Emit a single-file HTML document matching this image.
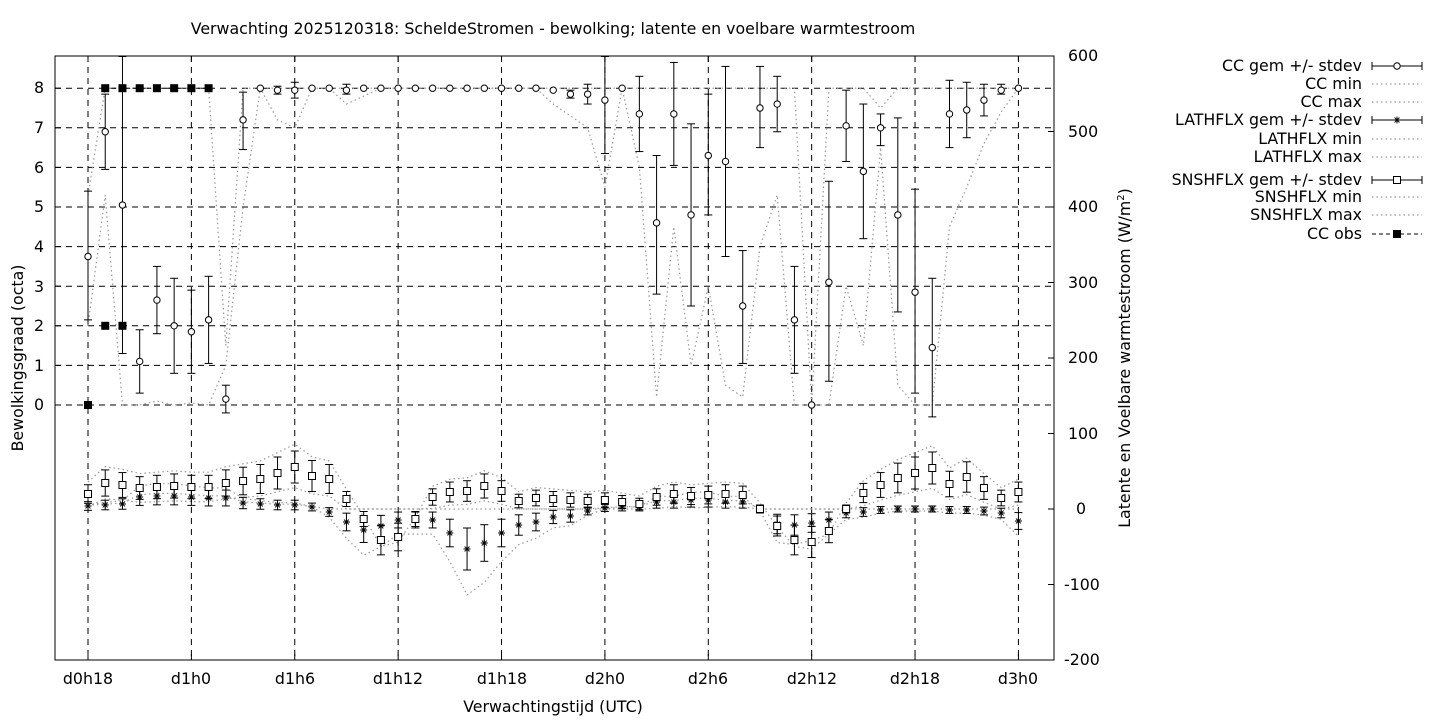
<!DOCTYPE html>
<html><head><meta charset="utf-8"><style>
body{margin:0;background:#fff;}
svg text{font-family:"DejaVu Sans","Liberation Sans",sans-serif;font-size:15.8px;fill:#000;}
</style></head><body>
<svg id="s" width="1440" height="720" xmlns="http://www.w3.org/2000/svg">
<rect width="1440" height="720" fill="#fff"/>
<text x="553" y="34" text-anchor="middle">Verwachting 2025120318: ScheldeStromen - bewolking; latente en voelbare warmtestroom</text>
<g id="grid" stroke="#000" stroke-width="1" stroke-dasharray="6,5"></g>
<g id="dots" fill="none" stroke="#999" stroke-width="1.2" stroke-dasharray="1.5,3"></g>
<g id="series" stroke="#000" stroke-width="1"></g>
<rect x="55" y="56" width="999" height="604" fill="none" stroke="#000"/>
<g text-anchor="end">
<text x="44" y="410">0</text><text x="44" y="371">1</text><text x="44" y="331">2</text><text x="44" y="292">3</text><text x="44" y="252">4</text><text x="44" y="212">5</text><text x="44" y="173">6</text><text x="44" y="133">7</text><text x="44" y="93">8</text>
</g>
<g text-anchor="start">
<text x="1068" y="61">600</text><text x="1068" y="137">500</text><text x="1068" y="212">400</text><text x="1068" y="288">300</text><text x="1068" y="363">200</text><text x="1068" y="439">100</text><text x="1076" y="514">0</text><text x="1064" y="590">-100</text><text x="1064" y="665">-200</text>
</g>
<g text-anchor="middle">
<text x="88" y="684">d0h18</text><text x="191" y="684">d1h0</text><text x="295" y="684">d1h6</text><text x="398" y="684">d1h12</text><text x="502" y="684">d1h18</text><text x="605" y="684">d2h0</text><text x="708" y="684">d2h6</text><text x="812" y="684">d2h12</text><text x="915" y="684">d2h18</text><text x="1018" y="684">d3h0</text>
<text x="553" y="712">Verwachtingstijd (UTC)</text>
</g>
<text transform="translate(23,358) rotate(-90)" text-anchor="middle">Bewolkingsgraad (octa)</text>
<text transform="translate(1130,358) rotate(-90)" text-anchor="middle">Latente en Voelbare warmtestroom (W/m<tspan font-size="10" dy="-6">2</tspan><tspan dy="6">)</tspan></text>
<g text-anchor="end" id="legtext">
<text x="1362" y="71">CC gem +/- stdev</text>
<text x="1362" y="89">CC min</text>
<text x="1362" y="107">CC max</text>
<text x="1362" y="125">LATHFLX gem +/- stdev</text>
<text x="1362" y="144">LATHFLX min</text>
<text x="1362" y="162">LATHFLX max</text>
<text x="1362" y="185">SNSHFLX gem +/- stdev</text>
<text x="1362" y="202">SNSHFLX min</text>
<text x="1362" y="220">SNSHFLX max</text>
<text x="1362" y="239">CC obs</text>
</g>
<g id="leg" stroke="#000"></g>
</svg>
<script>
const NS="http://www.w3.org/2000/svg";
function el(p,t,a){const e=document.createElementNS(NS,t);for(const k in a)e.setAttribute(k,a[k]);p.appendChild(e);return e;}
const grid=document.getElementById('grid'),dots=document.getElementById('dots'),S=document.getElementById('series'),L=document.getElementById('leg');
const X=i=>88+i*17.23, YC=v=>405-v*39.6;
for(let k=0;k<10;k++){const x=88+k*103.38;el(grid,'line',{x1:x,y1:56,x2:x,y2:660});}
for(let v=0;v<=8;v++){const y=YC(v);el(grid,'line',{x1:55,y1:y,x2:1054,y2:y});}
const T=document.getElementById('s');
const tk=el(T,'g',{stroke:'#000'});
for(let v=0;v<=8;v++){const y=YC(v);el(tk,'line',{x1:55,y1:y,x2:61,y2:y});}
for(let k=0;k<=8;k++){const y=56+k*75.5;el(tk,'line',{x1:1048,y1:y,x2:1054,y2:y});}
for(let k=0;k<10;k++){const x=88+k*103.38;el(tk,'line',{x1:x,y1:660,x2:x,y2:654});el(tk,'line',{x1:x,y1:56,x2:x,y2:62});}
const cc=[[3.75,2.15,5.4],[6.9,5.95,7.85],[5.05,1.3,8.8],[1.1,0.3,1.9],[2.65,1.8,3.5],[2,0.8,3.2],[1.85,0.8,2.9],[2.15,1.05,3.25],[0.15,-0.2,0.5],[7.2,6.45,7.9],
[8,8,8],[7.95,7.85,8.05],[7.95,7.75,8.15],[8,8,8],[8,8,8],[7.95,7.85,8.1],[8,8,8],[8,8,8],[8,8,8],[8,8,8],[8,8,8],[8,8,8],[8,8,8],[8,8,8],[8,8,8],[8,8,8],[8,8,8],[7.95,7.95,7.95],
[7.85,7.75,7.95],[7.85,7.6,8.1],[7.7,6.35,9],[8,8,8],[7.35,6.4,8.3],[4.6,2.8,6.3],[7.35,6.05,8.65],[4.8,2.5,7.1],[6.3,4.8,7.85],[6.15,3.75,8.55],[2.5,1.05,3.9],[7.5,6.5,8.55],[7.6,6.9,8.3],
[2.15,0.8,3.5],[0,0,0],[3.1,0.6,5.65],[7.05,6.15,7.95],[5.9,4.2,7.6],[7,6.55,7.35],[4.8,2.35,7.25],[2.85,0.3,5.45],[1.45,-0.3,3.2],[7.35,6.5,8.2],[7.45,6.75,8.15],[7.7,7.3,8.1],[7.95,7.85,8.1],[8,8,8]];
const ccmin=[2,5.3,0,0,0.1,0,0.05,0,1,5,8,7.2,7,8,8,7.6,7.8,8,8,8,8,8,8,8,8,8,8,7.6,7.3,7,5.5,8,6,0.2,4.5,1,3,0.5,0.2,4,5.3,0,0,0,3,1.5,6.5,0.5,0,0,4.5,5.5,6.6,7.4,8];
const ccmax=[5.3,8,8,8,8,8,8,8,1.5,8,8,8,8,8,8,8,8,8,8,8,8,8,8,8,8,8,8,8,8,8,8,8,8,8,8,8,8,8,8,8,8,8,0,8,8,8,7.5,8,8,8,8,8,8,8,8];
function poly(arr,f){return arr.map((v,i)=>X(i).toFixed(1)+','+f(v).toFixed(1)).join(' ');}
el(dots,'polyline',{points:poly(ccmin,YC)});
el(dots,'polyline',{points:poly(ccmax,YC)});
const sn=[494,483,485,488,487,486,487,487,483,481,479,473,467,476,479,499,519,540,537,519,497,492,491,486,491,501,498,499,500,501,500,502,504,497,494,496,495,494,495,509,526,540,542,531,509,493,485,478,473,468,484,477,488,498,492];
const la=[506,505,504,497,496,496,497,498,498,503,504,505,505,507,512,522,530,526,520,520,520,533,549,543,533,525,522,517,516,511,508,507,507,502,502,500,500,502,502,509,524,525,523,520,513,512,510,509,509,509,510,510,511,513,521];
const se=sn.map(y=>Math.max(4,Math.min(16,Math.abs(509-y)*0.35+4)));
const le=la.map(y=>Math.max(3,Math.min(22,Math.abs(509-y)*0.45+3)));
el(dots,'polyline',{points:poly(sn,y=>y-(509-y)*0.4-6)});
el(dots,'polyline',{points:poly(sn,y=>Math.min(509,y+(509-y)*0.3+8))});
el(dots,'polyline',{points:poly(la,y=>Math.min(509,y-(509-y)*0.2))});
el(dots,'polyline',{points:poly(la,y=>y+(y-509)*1.1+2)});
function eb(x,y1,y2){el(S,'line',{x1:x,y1:y1,x2:x,y2:y2});el(S,'line',{x1:x-4,y1:y1,x2:x+4,y2:y1});el(S,'line',{x1:x-4,y1:y2,x2:x+4,y2:y2});}
function circ(x,y){el(S,'circle',{cx:x,cy:y,r:3.2,fill:'#fff'});}
function sq(x,y){el(S,'rect',{x:x-3.5,y:y-3.5,width:7,height:7,fill:'#fff'});}
function star(x,y){const r=3.5;el(S,'path',{d:`M${x-r},${y}h${2*r}M${x},${y-r}v${2*r}M${x-r*.7},${y-r*.7}l${1.4*r},${1.4*r}M${x-r*.7},${y+r*.7}l${1.4*r},${-1.4*r}`});}
function fsq(x,y){el(S,'rect',{x:x-3.5,y:y-3.5,width:7,height:7,fill:'#000'});}
cc.forEach((d,i)=>{const x=X(i);if(d[2]-d[1]>0.05)eb(x,YC(Math.min(d[2],8.8)),YC(d[1]));circ(x,YC(d[0]));});
la.forEach((y,i)=>{const x=X(i);eb(x,y-le[i],y+le[i]);star(x,y);});
sn.forEach((y,i)=>{const x=X(i);eb(x,y-se[i],y+se[i]);sq(x,y);});
el(S,'polyline',{points:`${X(1)},${YC(8)} ${X(7)},${YC(8)}`,fill:'none','stroke-dasharray':'4,3'});
[[0,0],[1,2],[2,2],[1,8],[2,8],[3,8],[4,8],[5,8],[6,8],[7,8]].forEach(p=>fsq(X(p[0]),YC(p[1])));
const ly=[66,84,102,120,139,157,180,197,215,234];
ly.forEach((y,k)=>{
 if(k==1||k==2||k==4||k==5||k==7||k==8){el(L,'line',{x1:1372,y1:y,x2:1422,y2:y,stroke:'#999','stroke-dasharray':'1.5,3','stroke-width':1.2});return;}
 if(k==9){el(L,'line',{x1:1372,y1:y,x2:1422,y2:y,'stroke-dasharray':'4,3'});el(L,'rect',{x:1393.5,y:y-3.5,width:7,height:7,fill:'#000'});return;}
 el(L,'line',{x1:1372,y1:y,x2:1422,y2:y});el(L,'line',{x1:1372,y1:y-4,x2:1372,y2:y+4});el(L,'line',{x1:1422,y1:y-4,x2:1422,y2:y+4});
 if(k==0)el(L,'circle',{cx:1397,cy:y,r:3.2,fill:'#fff'});
 if(k==6)el(L,'rect',{x:1393.5,y:y-3.5,width:7,height:7,fill:'#fff'});
 if(k==3){const r=3.5,x=1397;el(L,'path',{d:`M${x-r},${y}h${2*r}M${x},${y-r}v${2*r}M${x-r*.7},${y-r*.7}l${1.4*r},${1.4*r}M${x-r*.7},${y+r*.7}l${1.4*r},${-1.4*r}`});}
});
</script>
</body></html>
